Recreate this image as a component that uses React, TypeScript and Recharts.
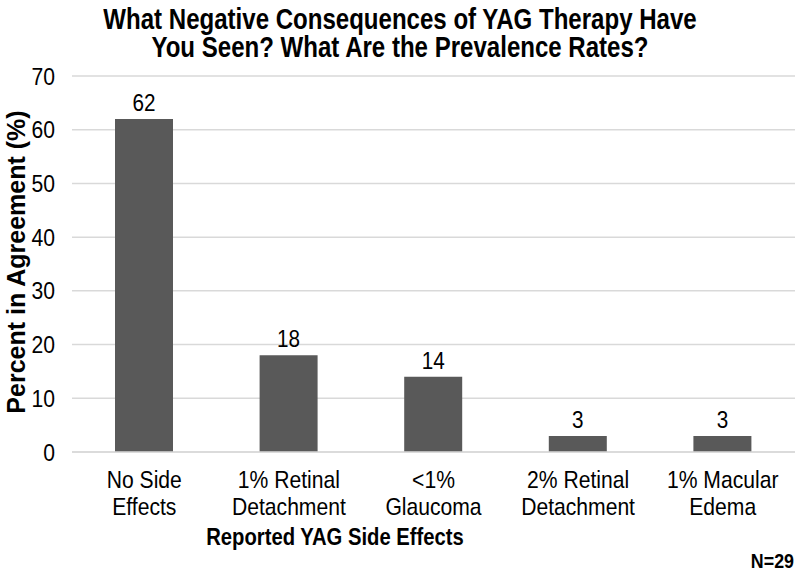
import React from "react";
import { BarChart, Bar, XAxis, YAxis, CartesianGrid, LabelList } from "recharts";

const categories = [
  "No Side\nEffects",
  "1% Retinal\nDetachment",
  "<1%\nGlaucoma",
  "2% Retinal\nDetachment",
  "1% Macular\nEdema",
];
const percentValues = [62, 18, 14, 3, 3];
const yTicks = [0, 10, 20, 30, 40, 50, 60, 70];
const titleLines = [
  "What Negative Consequences of YAG Therapy Have",
  "You Seen? What Are the Prevalence Rates?",
];
const yAxisTitle = "Percent in Agreement (%)";
const xAxisTitle = "Reported YAG Side Effects";
const sampleNote = "N=29";

const data = categories.map((c, i) => ({ category: c, value: percentValues[i] }));

const FONT = "'Liberation Sans', Arial, sans-serif";

// horizontal condensing about an anchor x
const squeeze = (x: number, k: number) => `matrix(${k},0,0,1,${x * (1 - k)},0)`;

const CategoryTick = (props: any) => {
  const { x, y, payload } = props;
  const lines = String(payload.value).split("\n");
  const k = 0.88;
  return (
    <text
      x={x}
      y={y}
      transform={squeeze(x, k)}
      textAnchor="middle"
      fill="#000"
      fontFamily={FONT}
      fontSize={24}
    >
      {lines.map((l, i) => (
        <tspan key={i} x={x} y={y + 17 + i * 27}>
          {l}
        </tspan>
      ))}
    </text>
  );
};

const ValueTick = (props: any) => {
  const { x, y, payload } = props;
  const k = 0.88;
  return (
    <text
      x={x}
      y={y}
      dy="0.355em"
      transform={squeeze(x, k)}
      textAnchor="end"
      fill="#000"
      fontFamily={FONT}
      fontSize={24}
    >
      {payload.value}
    </text>
  );
};

const BarValueLabel = (props: any) => {
  const { x, y, width, value } = props;
  const cx = Number(x) + Number(width) / 2;
  const k = 0.9;
  return (
    <text
      x={cx}
      y={Number(y) - 8}
      transform={squeeze(cx, k)}
      textAnchor="middle"
      fill="#000"
      fontFamily={FONT}
      fontSize={23}
    >
      {value}
    </text>
  );
};

export default function App() {
  return (
    <div style={{ position: "absolute", left: 0, top: 0, width: 800, height: 573, background: "#fff" }}>
      <BarChart
        width={800}
        height={573}
        data={data}
        margin={{ top: 76, right: 5, bottom: 0, left: 0 }}
      >
        <CartesianGrid vertical={false} stroke="#d9d9d9" strokeWidth={1.5} />
        <XAxis
          dataKey="category"
          interval={0}
          height={121}
          tickLine={false}
          tickSize={0}
          tickMargin={19}
          axisLine={{ stroke: "#d9d9d9", strokeWidth: 1.5 }}
          tick={<CategoryTick />}
        />
        <YAxis
          width={72}
          domain={[0, 70]}
          ticks={yTicks}
          interval={0}
          tickLine={false}
          axisLine={false}
          tickSize={0}
          tickMargin={17}
          tick={<ValueTick />}
        />
        <Bar dataKey="value" fill="#595959" barSize={58} isAnimationActive={false}>
          <LabelList dataKey="value" content={<BarValueLabel />} />
        </Bar>
      </BarChart>
      <svg
        width={800}
        height={573}
        style={{ position: "absolute", left: 0, top: 0, pointerEvents: "none" }}
      >
        {titleLines.map((t, i) => (
          <text
            key={i}
            x={400}
            y={29 + i * 28}
            transform={squeeze(400, 0.83)}
            textAnchor="middle"
            fontFamily={FONT}
            fontWeight="bold"
            fontSize={29}
            fill="#000"
          >
            {t}
          </text>
        ))}
        <text
          x={25}
          y={262}
          transform="rotate(-90 25 262)"
          textAnchor="middle"
          fontFamily={FONT}
          fontWeight="bold"
          fontSize={25}
          fill="#000"
        >
          {yAxisTitle}
        </text>
        <text
          x={335}
          y={545}
          transform={squeeze(335, 0.88)}
          textAnchor="middle"
          fontFamily={FONT}
          fontWeight="bold"
          fontSize={23}
          fill="#000"
        >
          {xAxisTitle}
        </text>
        <text
          x={794}
          y={568}
          transform={squeeze(794, 0.85)}
          textAnchor="end"
          fontFamily={FONT}
          fontWeight="bold"
          fontSize={21}
          fill="#000"
        >
          {sampleNote}
        </text>
      </svg>
    </div>
  );
}
